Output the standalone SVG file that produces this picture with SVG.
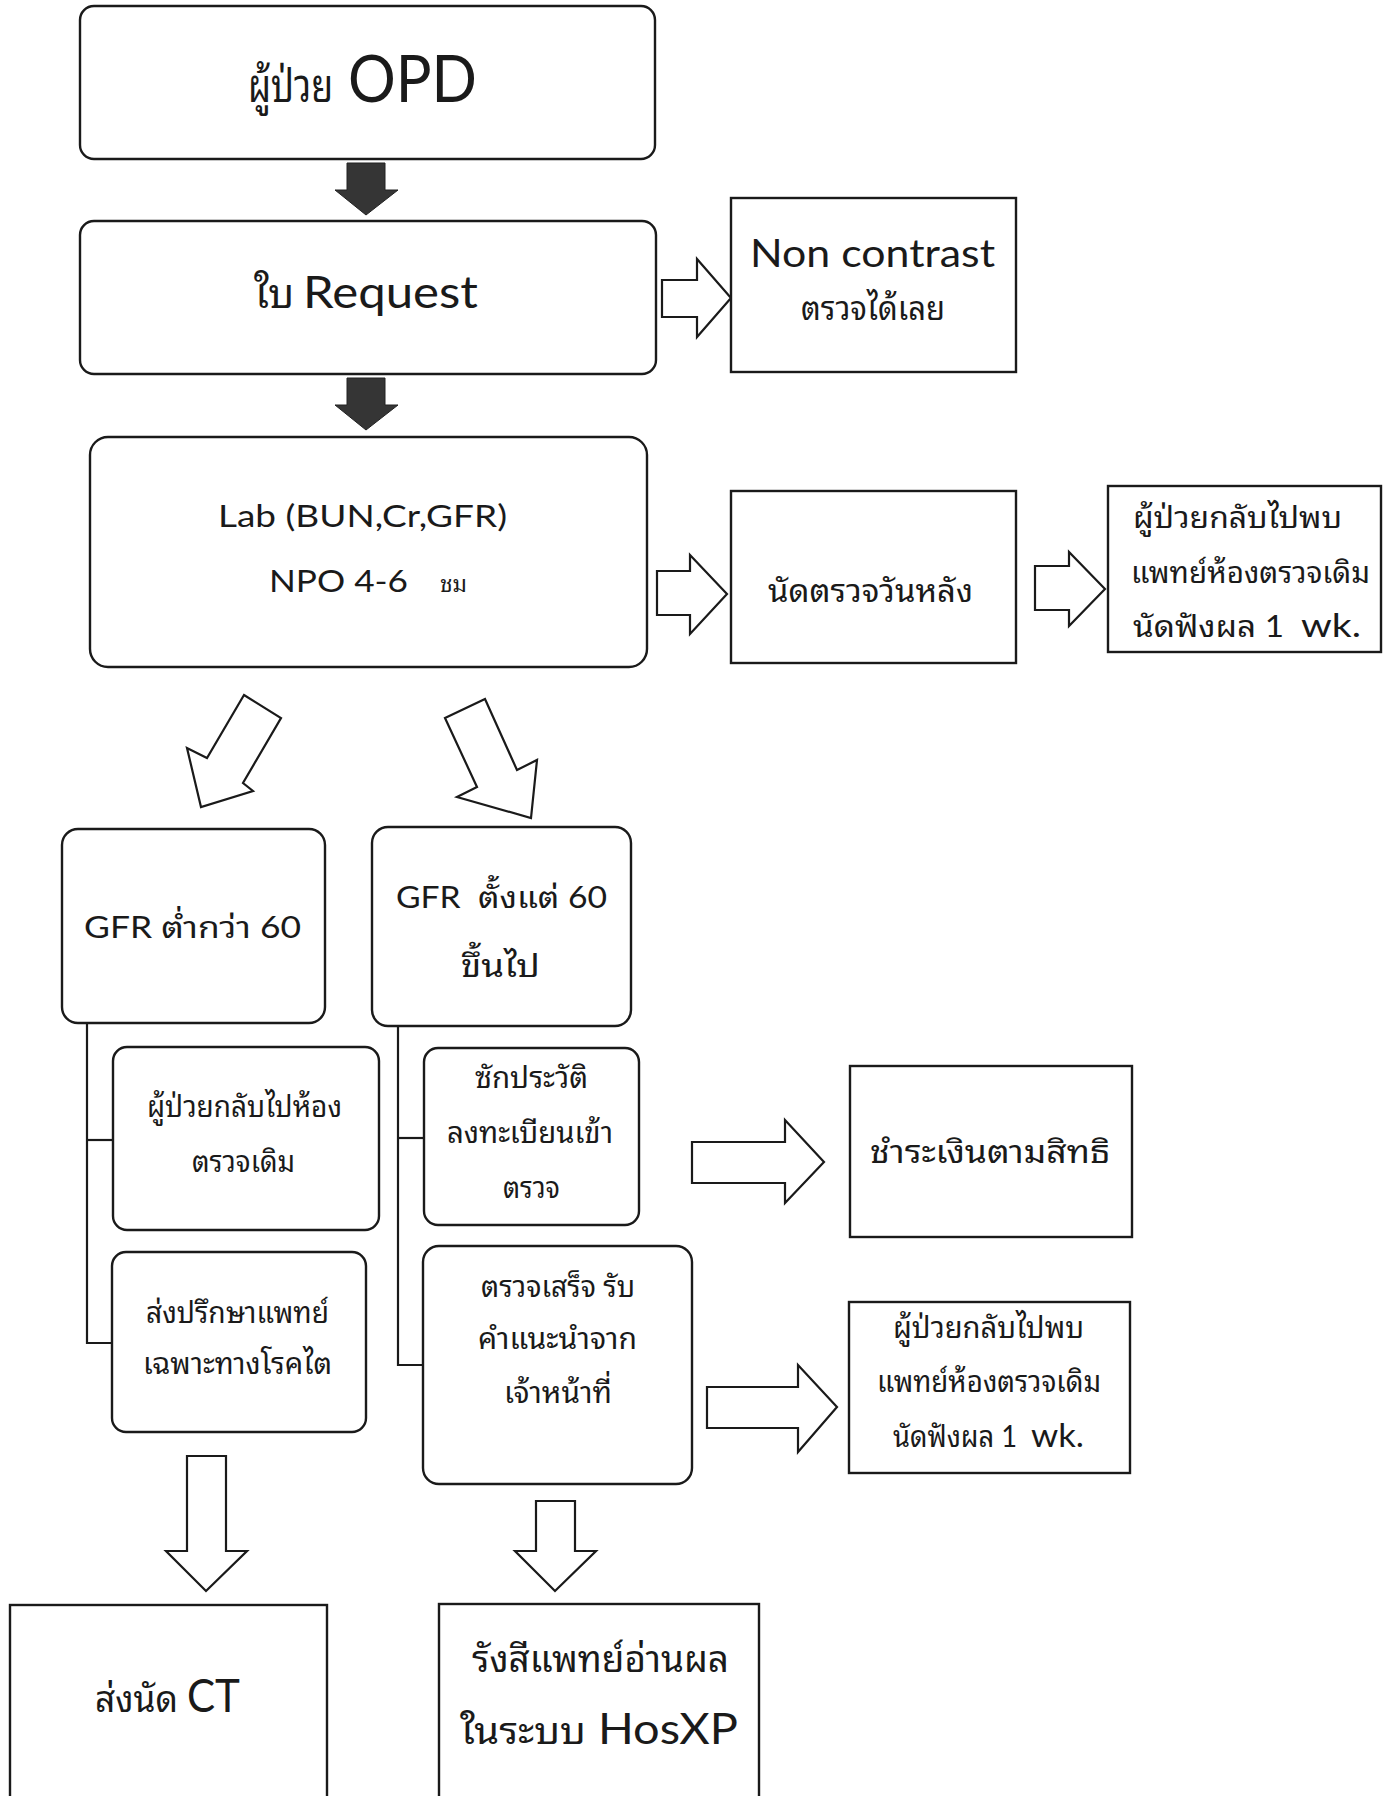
<svg xmlns="http://www.w3.org/2000/svg" width="1391" height="1796" viewBox="0 0 1391 1796">
<style>
.box{fill:#fff;stroke:#1a1a1a;stroke-width:2.4}
.blk{fill:#353535;stroke:#222;stroke-width:1}
.hol{fill:#fff;stroke:#1a1a1a;stroke-width:2.2;stroke-linejoin:miter}
.ln{fill:none;stroke:#1a1a1a;stroke-width:2.2}
text{fill:#1a1a1a;font-family:Lato,"Noto Sans Thai Looped","Noto Serif Thai",Garuda,Loma,Norasi,"Noto Sans Thai","Noto Sans",sans-serif}
.th{font-size:30px}
</style>
<rect width="1391" height="1796" fill="#fff"/>
<g id="connectors">
<polygon class="blk" points="347,163 385,163 385,190 398,190 366,215 335,190 347,190"/>
<polygon class="blk" points="347,378 385,378 385,405 398,405 366,430 335,405 347,405"/>
<polygon class="hol" points="662,280 697,280 697,259 731,298 697,337 697,317 662,317"/>
<polygon class="hol" points="657,571 690,571 690,555 727,594 690,634 690,615 657,615"/>
<polygon class="hol" points="1035,566 1069,566 1069,552 1105,589 1069,626 1069,610 1035,610"/>
<polygon class="hol" points="244,695 281,718 243,783 253,791 201,807 187,748 207,758"/>
<polygon class="hol" points="445,718 485,699 517,770 537,760 531,818 457,797 477,787"/>
<polyline class="ln" points="87,1023 87,1343 112,1343"/>
<line class="ln" x1="87" y1="1140" x2="113" y2="1140"/>
<polyline class="ln" points="398,1027 398,1365 423,1365"/>
<line class="ln" x1="398" y1="1138" x2="424" y2="1138"/>
<polygon class="hol" points="692,1142 785,1142 785,1120 824,1162 785,1203 785,1183 692,1183"/>
<polygon class="hol" points="707,1387 798,1387 798,1365 837,1407 798,1452 798,1428 707,1428"/>
<polygon class="hol" points="187,1456 226,1456 226,1551 247,1551 206,1591 166,1551 187,1551"/>
<polygon class="hol" points="536,1501 575,1501 575,1551 596,1551 555,1591 515,1551 536,1551"/>
</g>
<g id="opd">
<rect class="box" x="80" y="6" width="575" height="153" rx="14"/>
<text x="248" y="102" font-size="46" textLength="85" lengthAdjust="spacingAndGlyphs">ผู้ป่วย</text>
<text x="348" y="102" font-size="66" textLength="129" lengthAdjust="spacingAndGlyphs">OPD</text>
</g>
<g id="request">
<rect class="box" x="80" y="221" width="576" height="153" rx="14"/>
<text x="254" y="308" font-size="40" textLength="40" lengthAdjust="spacingAndGlyphs">ใบ</text>
<text x="303" y="308" font-size="44" textLength="175" lengthAdjust="spacingAndGlyphs">Request</text>
</g>
<g id="noncontrast">
<rect class="box" x="731" y="198" width="285" height="174"/>
<text x="750" y="267" font-size="38" textLength="245" lengthAdjust="spacingAndGlyphs">Non contrast</text>
<text x="801" y="320" font-size="34" textLength="144" lengthAdjust="spacingAndGlyphs">ตรวจได้เลย</text>
</g>
<g id="lab">
<rect class="box" x="90" y="437" width="557" height="230" rx="18"/>
<text x="218" y="527" font-size="31" textLength="289" lengthAdjust="spacingAndGlyphs">Lab (BUN,Cr,GFR)</text>
<text x="269" y="592" font-size="31" textLength="139" lengthAdjust="spacingAndGlyphs">NPO 4-6</text>
<text x="440" y="592" font-size="22" textLength="27" lengthAdjust="spacingAndGlyphs">ชม</text>
</g>
<g id="next-day">
<rect class="box" x="731" y="491" width="285" height="172"/>
<text x="768" y="602" font-size="32" textLength="205" lengthAdjust="spacingAndGlyphs">นัดตรวจวันหลัง</text>
</g>
<g id="return1">
<rect class="box" x="1108" y="486" width="273" height="166"/>
<text x="1133" y="528" class="th" textLength="209" lengthAdjust="spacingAndGlyphs">ผู้ป่วยกลับไปพบ</text>
<text x="1131" y="583" class="th" textLength="239" lengthAdjust="spacingAndGlyphs">แพทย์ห้องตรวจเดิม</text>
<text x="1133" y="637" class="th" textLength="151" lengthAdjust="spacingAndGlyphs">นัดฟังผล 1</text>
<text x="1301" y="637" font-size="32" textLength="60" lengthAdjust="spacingAndGlyphs">wk.</text>
</g>
<g id="gfr-low">
<rect class="box" x="62" y="829" width="263" height="194" rx="16"/>
<text x="84" y="938" font-size="30" textLength="217" lengthAdjust="spacingAndGlyphs">GFR ต่ำกว่า 60</text>
</g>
<g id="gfr-high">
<rect class="box" x="372" y="827" width="259" height="199" rx="16"/>
<text x="396" y="908" font-size="30" textLength="211" lengthAdjust="spacingAndGlyphs" xml:space="preserve">GFR  ตั้งแต่ 60</text>
<text x="461" y="977" font-size="32" textLength="79" lengthAdjust="spacingAndGlyphs">ขึ้นไป</text>
</g>
<g id="back-room">
<rect class="box" x="113" y="1047" width="266" height="183" rx="14"/>
<text x="147" y="1117" class="th" textLength="195" lengthAdjust="spacingAndGlyphs">ผู้ป่วยกลับไปห้อง</text>
<text x="192" y="1172" class="th" textLength="103" lengthAdjust="spacingAndGlyphs">ตรวจเดิม</text>
</g>
<g id="consult">
<rect class="box" x="112" y="1252" width="254" height="180" rx="14"/>
<text x="146" y="1323" class="th" textLength="183" lengthAdjust="spacingAndGlyphs">ส่งปรึกษาแพทย์</text>
<text x="143" y="1374" class="th" textLength="189" lengthAdjust="spacingAndGlyphs">เฉพาะทางโรคไต</text>
</g>
<g id="history">
<rect class="box" x="424" y="1048" width="215" height="177" rx="14"/>
<text x="475" y="1088" class="th" textLength="113" lengthAdjust="spacingAndGlyphs">ซักประวัติ</text>
<text x="447" y="1143" class="th" textLength="166" lengthAdjust="spacingAndGlyphs">ลงทะเบียนเข้า</text>
<text x="503" y="1198" class="th" textLength="57" lengthAdjust="spacingAndGlyphs">ตรวจ</text>
</g>
<g id="done">
<rect class="box" x="423" y="1246" width="269" height="238" rx="16"/>
<text x="481" y="1297" class="th" textLength="154" lengthAdjust="spacingAndGlyphs">ตรวจเสร็จ รับ</text>
<text x="478" y="1349" class="th" textLength="159" lengthAdjust="spacingAndGlyphs">คำแนะนำจาก</text>
<text x="504" y="1403" class="th" textLength="108" lengthAdjust="spacingAndGlyphs">เจ้าหน้าที่</text>
</g>
<g id="pay">
<rect class="box" x="850" y="1066" width="282" height="171"/>
<text x="870" y="1163" font-size="32" textLength="240" lengthAdjust="spacingAndGlyphs">ชำระเงินตามสิทธิ</text>
</g>
<g id="return2">
<rect class="box" x="849" y="1302" width="281" height="171"/>
<text x="893" y="1338" class="th" textLength="191" lengthAdjust="spacingAndGlyphs">ผู้ป่วยกลับไปพบ</text>
<text x="877" y="1392" class="th" textLength="224" lengthAdjust="spacingAndGlyphs">แพทย์ห้องตรวจเดิม</text>
<text x="893" y="1447" class="th" textLength="124" lengthAdjust="spacingAndGlyphs">นัดฟังผล 1</text>
<text x="1031" y="1447" font-size="32" textLength="53" lengthAdjust="spacingAndGlyphs">wk.</text>
</g>
<g id="ct">
<rect class="box" x="10" y="1605" width="317" height="200"/>
<text x="95" y="1712" font-size="36" textLength="83" lengthAdjust="spacingAndGlyphs">ส่งนัด</text>
<text x="187" y="1712" font-size="46" textLength="53" lengthAdjust="spacingAndGlyphs">CT</text>
</g>
<g id="radiology">
<rect class="box" x="439" y="1604" width="320" height="200"/>
<text x="472" y="1672" font-size="36" textLength="257" lengthAdjust="spacingAndGlyphs">รังสีแพทย์อ่านผล</text>
<text x="460" y="1744" font-size="36" textLength="126" lengthAdjust="spacingAndGlyphs">ในระบบ</text>
<text x="598" y="1744" font-size="42" textLength="140" lengthAdjust="spacingAndGlyphs">HosXP</text>
</g>
</svg>
